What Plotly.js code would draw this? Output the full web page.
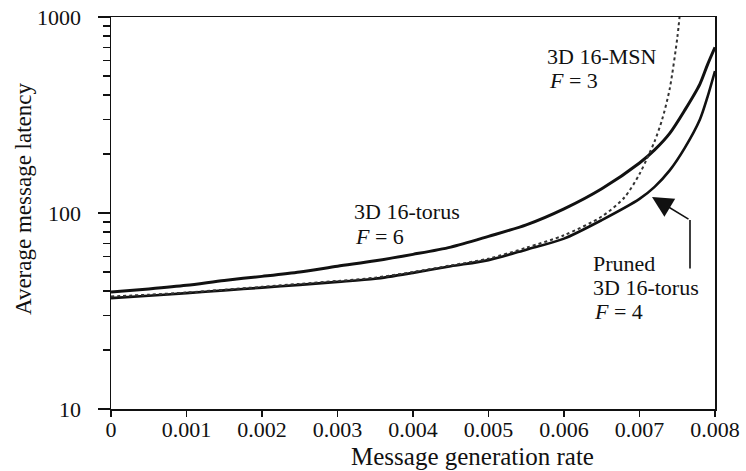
<!DOCTYPE html>
<html>
<head>
<meta charset="utf-8">
<script src="https://cdn.plot.ly/plotly-3.0.1.min.js"></script>
<style>html,body{margin:0;padding:0;background:#fff;}#chart{width:746px;height:471px;}</style>
</head>
<body>
<div id="chart"></div>
<script>
// Message generation rate
const rate = [0, 0.0005, 0.001, 0.0015, 0.002, 0.0025, 0.003, 0.0035, 0.004, 0.0045, 0.005, 0.0055, 0.006, 0.0065, 0.007, 0.0072, 0.0074, 0.0076, 0.0078, 0.0079, 0.008];
// 3D 16-torus, F = 6
const torusLatency = [39.5, 41, 42.8, 45.3, 47.5, 50, 53.5, 57, 61.5, 67, 76, 87, 105, 133, 180, 210, 255, 335, 455, 570, 700];
// Pruned 3D 16-torus, F = 4
const prunedLatency = [36.8, 37.8, 39, 40.3, 41.6, 43, 44.5, 46.2, 49.5, 53.5, 57.5, 65, 74, 92, 118, 136, 165, 215, 300, 390, 530];
// 3D 16-MSN, F = 3
const msnRate = [0, 0.0005, 0.001, 0.0015, 0.002, 0.0025, 0.003, 0.0035, 0.004, 0.0045, 0.005, 0.0055, 0.006, 0.0065, 0.0068, 0.007, 0.0071, 0.0072, 0.0073, 0.0074, 0.0075, 0.00753];
const msnLatency = [37.5, 38.3, 39.3, 40.6, 42, 43.5, 45, 46.8, 50, 54, 58.5, 66.5, 77, 96, 120, 158, 190, 232, 300, 430, 780, 1000];

// tick labels
const xTickVals = [0, 0.001, 0.002, 0.003, 0.004, 0.005, 0.006, 0.007, 0.008];
const xTickText = ['0', '0.001', '0.002', '0.003', '0.004', '0.005', '0.006', '0.007', '0.008'];
const yTickVals = [10, 100, 1000];
const yTickText = ['10', '100', '1000'];
const yMinorVals = [20, 30, 40, 50, 60, 70, 80, 90, 200, 300, 400, 500, 600, 700, 800, 900];

const serif = "Liberation Serif, Times New Roman, serif";
const ink = '#111';

const traces = [
  {x: rate, y: torusLatency, mode: 'lines', line: {color: ink, width: 3, shape: 'spline', smoothing: 0.8}, name: '3D 16-torus'},
  {x: rate, y: prunedLatency, mode: 'lines', line: {color: ink, width: 2.6, shape: 'spline', smoothing: 0.8}, name: 'Pruned 3D 16-torus'},
  {x: msnRate, y: msnLatency, mode: 'lines', line: {color: '#333', width: 2, dash: 'dot', shape: 'spline', smoothing: 0.8}, name: '3D 16-MSN'},
  // invisible copy so the tick-mark axis (x2) is drawn
  {x: rate, y: torusLatency, xaxis: 'x2', yaxis: 'y', mode: 'lines', line: {color: 'rgba(0,0,0,0)', width: 0}, opacity: 0, hoverinfo: 'skip', showlegend: false}
];

// plot area pixels: x 111..715, y 17..409
function px(p) { return (p - 111) / 604; }
function py(p) { return (409 - p) / 392; }

const annFont = {family: serif, size: 22, color: ink};
function label(x, y, text) {
  return {xref: 'paper', yref: 'paper', x: px(x), y: py(y), xanchor: 'left', yanchor: 'middle', text: text, showarrow: false, font: annFont};
}

const layout = {
  width: 746, height: 471,
  margin: {l: 111, r: 31, t: 17, b: 62},
  paper_bgcolor: '#fff', plot_bgcolor: '#fff',
  showlegend: false,
  font: {family: serif, size: 22, color: ink},
  xaxis: {
    range: [0, 0.008],
    tickmode: 'array', tickvals: xTickVals, ticktext: xTickText,
    ticks: 'outside', ticklen: 0, tickwidth: 0, tickcolor: ink,
    showline: true, linecolor: ink, linewidth: 1.5, mirror: true,
    showgrid: false, zeroline: false,
    tickfont: {family: serif, size: 22, color: ink}
  },
  // tick marks only, sharing the same scale as the labelled axis
  xaxis2: {
    overlaying: 'x', matches: 'x', anchor: 'y', side: 'bottom',
    range: [0, 0.008],
    tickmode: 'array', tickvals: xTickVals,
    ticks: 'outside', ticklen: 7, tickwidth: 1.5, tickcolor: ink,
    showticklabels: false, showline: false, showgrid: false, zeroline: false
  },
  yaxis: {
    type: 'log', range: [1, 3],
    tickmode: 'array', tickvals: yTickVals, ticktext: yTickText,
    ticks: 'outside', ticklen: 12, tickwidth: 1.5, tickcolor: ink,
    ticklabelstandoff: 12,
    minor: {tickmode: 'array', tickvals: yMinorVals, ticks: 'outside', ticklen: 7, tickwidth: 1.3, tickcolor: ink, showgrid: false},
    showline: true, linecolor: ink, linewidth: 1.5, mirror: true,
    showgrid: false, zeroline: false,
    tickfont: {family: serif, size: 22, color: ink}
  },
  annotations: [
    // axis titles
    {xref: 'paper', yref: 'paper', x: px(473), y: py(456), xanchor: 'center', yanchor: 'middle', text: 'Message generation rate', showarrow: false, font: {family: serif, size: 25, color: ink}},
    {xref: 'paper', yref: 'paper', x: px(23), y: py(199), xanchor: 'center', yanchor: 'middle', textangle: -90, text: 'Average message latency', showarrow: false, font: {family: serif, size: 23, color: ink}},
    // curve labels
    label(545, 56, '3D 16-MSN'),
    label(547, 80, '<i>F</i> = 3'),
    label(352, 211, '3D 16-torus'),
    label(353, 236, '<i>F</i> = 6'),
    label(591, 263, 'Pruned'),
    label(591, 287, '3D 16-torus'),
    label(592, 311, '<i>F</i> = 4'),
    // pointer to pruned curve
    {xref: 'paper', yref: 'paper', x: px(690), y: py(220), text: '', showarrow: true, arrowhead: 0, arrowwidth: 1.6, arrowcolor: ink, ax: 0, ay: 50, standoff: 0, startstandoff: 0},
    {xref: 'paper', yref: 'paper', x: px(652), y: py(197), text: '', showarrow: true, arrowhead: 2, arrowsize: 2.6, arrowwidth: 1.6, arrowcolor: ink, ax: 38, ay: 23, standoff: 0}
  ]
};

Plotly.newPlot('chart', traces, layout, {staticPlot: true, displayModeBar: false});
</script>
</body>
</html>
